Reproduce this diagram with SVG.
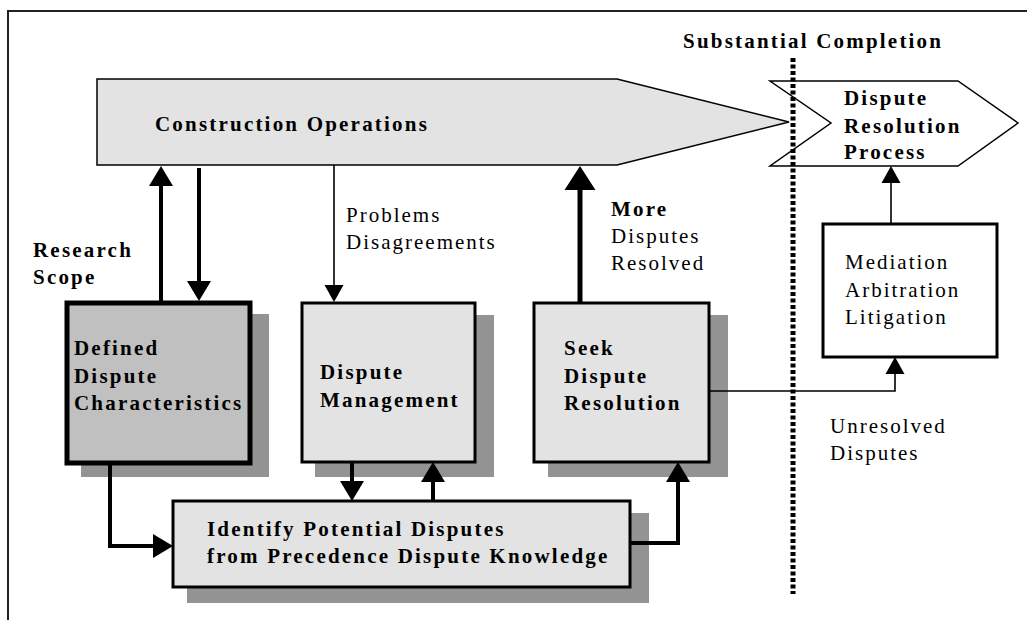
<svg xmlns="http://www.w3.org/2000/svg" width="1027" height="620" viewBox="0 0 1027 620">
  <style>
    .b { font-family: "Liberation Serif", "Times New Roman", serif; font-size: 21px; font-weight: bold; letter-spacing: 2.2px; fill: #000; }
    .r { font-family: "Liberation Serif", "Times New Roman", serif; font-size: 21px; letter-spacing: 2px; fill: #000; }
    .shadow { fill: #939393; }
    .box { fill: #e3e3e3; stroke: #000; stroke-width: 3; }
    .thick { fill: none; stroke: #000; stroke-width: 4; }
    .thin { fill: none; stroke: #000; stroke-width: 1.6; }
  </style>
  <defs>
    <marker id="ah" markerUnits="userSpaceOnUse" markerWidth="22" markerHeight="26" refX="0" refY="12" orient="auto" overflow="visible">
      <path d="M0,0 L20,12 L0,24 Z" fill="#000"/>
    </marker>
    <marker id="ah-big" markerUnits="userSpaceOnUse" markerWidth="26" markerHeight="32" refX="0" refY="15.5" orient="auto" overflow="visible">
      <path d="M0,0 L24,15.5 L0,31 Z" fill="#000"/>
    </marker>
    <marker id="ah-thin" markerUnits="userSpaceOnUse" markerWidth="19" markerHeight="20" refX="0" refY="9.5" orient="auto" overflow="visible">
      <path d="M0,0 L17,9.5 L0,19 Z" fill="#000"/>
    </marker>
  </defs>

  <!-- page frame -->
  <path d="M8,620 V11 H1027" fill="none" stroke="#222" stroke-width="2"/>

  <text class="b" x="683" y="48">Substantial Completion</text>

  <g id="construction-operations">
    <path d="M97,79 H617 L789,122 L617,165 H97 Z" fill="#e3e3e3" stroke="#000" stroke-width="1.5"/>
    <text class="b" x="155" y="131">Construction Operations</text>
  </g>

  <g id="dispute-resolution-process">
    <path d="M770,81 H958 L1018,123 L958,166 H770 L831,123 Z" fill="#fff" stroke="#000" stroke-width="1.5"/>
    <text class="b" x="844" y="105">Dispute</text>
    <text class="b" x="844" y="133">Resolution</text>
    <text class="b" x="844" y="159">Process</text>
  </g>

  <g id="research-scope">
    <text class="b" x="33" y="257">Research</text>
    <text class="b" x="33" y="284">Scope</text>
  </g>

  <g id="defined-dispute-characteristics">
    <rect class="shadow" x="81" y="314" width="188" height="163"/>
    <rect x="67" y="303" width="183" height="160" fill="#c0c0c0" stroke="#000" stroke-width="5"/>
    <text class="b" x="74" y="355">Defined</text>
    <text class="b" x="74" y="383">Dispute</text>
    <text class="b" x="74" y="410">Characteristics</text>
  </g>

  <g id="dispute-management">
    <rect class="shadow" x="315" y="315" width="179" height="162"/>
    <rect class="box" x="302" y="303" width="173" height="159"/>
    <text class="b" x="320" y="379">Dispute</text>
    <text class="b" x="320" y="407">Management</text>
  </g>

  <g id="seek-dispute-resolution">
    <rect class="shadow" x="548" y="315" width="180" height="162"/>
    <rect class="box" x="534" y="303" width="175" height="159"/>
    <text class="b" x="564" y="355">Seek</text>
    <text class="b" x="564" y="383">Dispute</text>
    <text class="b" x="564" y="410">Resolution</text>
  </g>

  <g id="identify-potential-disputes">
    <rect class="shadow" x="187" y="513" width="462" height="90"/>
    <rect class="box" x="173" y="501" width="457" height="86"/>
    <text class="b" x="207" y="536">Identify Potential Disputes</text>
    <text class="b" x="207" y="563">from Precedence Dispute Knowledge</text>
  </g>

  <g id="mediation-arbitration-litigation">
    <rect x="823" y="224" width="174" height="133" fill="#fff" stroke="#000" stroke-width="3"/>
    <text class="r" x="845" y="269">Mediation</text>
    <text class="r" x="845" y="297">Arbitration</text>
    <text class="r" x="845" y="324">Litigation</text>
  </g>

  <g id="connectors">
    <path class="thick" d="M161,302 V186" marker-end="url(#ah)"/>
    <path class="thick" d="M199,168 V281" marker-end="url(#ah)"/>
    <path class="thin" d="M334,165 V285" marker-end="url(#ah-thin)"/>
    <path fill="none" stroke="#000" stroke-width="5" d="M580,303 V190" marker-end="url(#ah-big)"/>
    <path class="thick" d="M110,463 V546 H153" marker-end="url(#ah)"/>
    <path class="thick" d="M352,462 V481" marker-end="url(#ah)"/>
    <path class="thick" d="M433,501 V482" marker-end="url(#ah)"/>
    <path class="thick" d="M630,543 H678 V482" marker-end="url(#ah)"/>
    <path class="thin" d="M709,391 H895 V374" marker-end="url(#ah-thin)"/>
    <path class="thin" d="M891,224 V183" marker-end="url(#ah-thin)"/>
  </g>

  <g id="connector-labels">
    <text class="r" x="346" y="222">Problems</text>
    <text class="r" x="346" y="249">Disagreements</text>
    <text class="b" x="611" y="216">More</text>
    <text class="r" x="611" y="243">Disputes</text>
    <text class="r" x="611" y="270">Resolved</text>
    <text class="r" x="830" y="433">Unresolved</text>
    <text class="r" x="830" y="460">Disputes</text>
  </g>

  <!-- substantial completion milestone -->
  <line x1="793" y1="58" x2="793" y2="594" stroke="#000" stroke-width="5" stroke-dasharray="4 2.5"/>
</svg>
